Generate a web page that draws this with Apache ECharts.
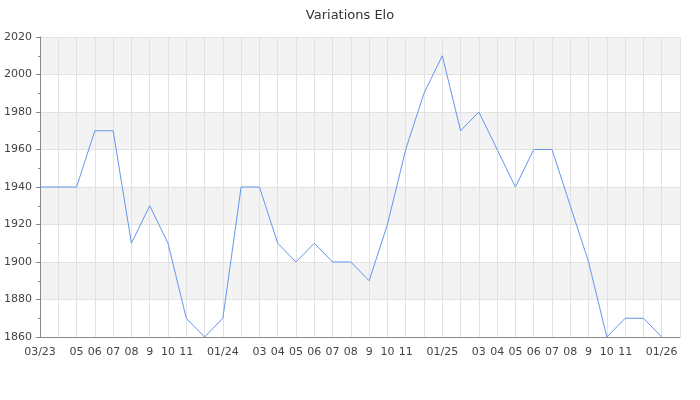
<!DOCTYPE html>
<html>
<head>
<meta charset="utf-8">
<script src="https://cdn.jsdelivr.net/npm/echarts@6/dist/echarts.min.js"></script>
<style>
  html, body { margin: 0; padding: 0; background: #fff; }
  #chart { width: 700px; height: 400px; }
</style>
</head>
<body>
<div id="chart"></div>
<script>
// mois de 03/2023 à 02/2026
const months = [
  '2023-03', '2023-04', '2023-05', '2023-06', '2023-07', '2023-08', '2023-09', '2023-10', '2023-11', '2023-12',
  '2024-01', '2024-02', '2024-03', '2024-04', '2024-05', '2024-06', '2024-07', '2024-08', '2024-09', '2024-10',
  '2024-11', '2024-12', '2025-01', '2025-02', '2025-03', '2025-04', '2025-05', '2025-06', '2025-07', '2025-08',
  '2025-09', '2025-10', '2025-11', '2025-12', '2026-01', '2026-02'
]
const monthLabels = [
  '03/23', '', '05', '06', '07', '08', '9', '10', '11', '',
  '01/24', '', '03', '04', '05', '06', '07', '08', '9', '10',
  '11', '', '01/25', '', '03', '04', '05', '06', '07', '08',
  '9', '10', '11', '', '01/26', ''
]
const elo = [
  1940, 1940, 1940, 1970, 1970, 1910, 1930, 1910, 1870, 1860,
  1870, 1940, 1940, 1910, 1900, 1910, 1900, 1900, 1890, 1920,
  1960, 1990, 2010, 1970, 1980, 1960, 1940, 1960, 1960, 1930,
  1900, 1860, 1870, 1870, 1860, null
]

const chart = echarts.init(document.getElementById('chart'))
const font = 'DejaVu Sans'
chart.setOption({
  animation: false,
  title: {
    text: 'Variations Elo',
    left: 'center',
    top: 4,
    textStyle: { fontFamily: font, fontSize: 13, fontWeight: 'normal', color: '#333' }
  },
  grid: { left: 40, right: 20, top: 37, bottom: 63 },
  xAxis: {
    type: 'category',
    data: months,
    boundaryGap: false,
    axisLine: { lineStyle: { color: '#888' } },
    axisTick: { show: false },
    axisLabel: {
      interval: 0,
      margin: 10,
      fontFamily: font,
      fontSize: 11,
      color: '#444',
      formatter: (v, i) => monthLabels[i]
    },
    splitLine: { show: true, interval: 0, lineStyle: { color: '#e2e2e2' } }
  },
  yAxis: {
    type: 'value',
    min: 1860,
    max: 2020,
    interval: 20,
    axisLine: { show: true, lineStyle: { color: '#888' } },
    axisTick: { show: true, length: 4, lineStyle: { color: '#888' } },
    minorTick: { show: true, splitNumber: 2, length: 2, lineStyle: { color: '#888' } },
    axisLabel: { fontFamily: font, fontSize: 11, color: '#444', margin: 8, formatter: v => String(v) },
    splitLine: { show: true, lineStyle: { color: '#e2e2e2' } },
    splitArea: { show: true, areaStyle: { color: ['#ffffff', '#f3f3f3'] } }
  },
  series: [{
    name: 'Elo',
    type: 'line',
    data: elo,
    showSymbol: false,
    lineStyle: { color: '#6495ed', width: 1 }
  }]
})
</script>
</body>
</html>
